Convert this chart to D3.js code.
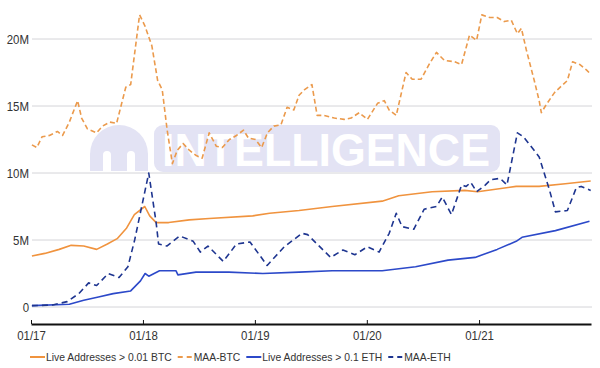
<!DOCTYPE html>
<html>
<head>
<meta charset="utf-8">
<script src="https://cdn.jsdelivr.net/npm/d3@7"></script>
<style>
  body { margin: 0; background: #fff; }
  svg { display: block; font-family: "Liberation Sans", Arial, sans-serif; }
</style>
</head>
<body>
<svg id="chart" width="600" height="368"></svg>
<script>
// values in millions, dates
const maaBtcDates = ['2017-01-04','2017-01-20','2017-02-06','2017-03-02','2017-03-28','2017-04-14','2017-05-06','2017-06-02','2017-06-15','2017-07-04','2017-08-03','2017-08-22','2017-09-15','2017-10-07','2017-11-06','2017-11-22','2017-12-21','2018-01-07','2018-01-30','2018-02-18','2018-03-05','2018-03-21','2018-04-07','2018-04-23','2018-05-12','2018-06-01','2018-06-24','2018-07-13','2018-08-05','2018-08-28','2018-09-17','2018-10-10','2018-11-02','2018-11-25','2018-12-11','2019-01-03','2019-01-23','2019-02-11','2019-03-04','2019-03-27','2019-04-16','2019-05-08','2019-05-25','2019-06-11','2019-07-06','2019-07-23','2019-08-15','2019-09-17','2019-10-19','2019-11-11','2019-12-07','2020-01-03','2020-02-05','2020-02-27','2020-03-14','2020-04-06','2020-05-08','2020-05-28','2020-06-26','2020-07-22','2020-08-15','2020-09-10','2020-10-13','2020-11-05','2020-12-01','2020-12-24','2021-01-10','2021-02-05','2021-03-01','2021-03-24','2021-04-16','2021-05-06','2021-05-19','2021-06-04','2021-06-30','2021-07-16','2021-07-23','2021-08-08','2021-09-04','2021-09-27','2021-10-16','2021-11-02','2021-11-25','2021-12-17','2021-12-30'];
const maaBtcValues = [12.1,11.9,12.7,12.8,13.1,12.8,13.8,15.4,14.1,13.3,13.0,13.5,13.8,13.7,16.4,16.6,21.8,21.0,19.5,16.9,16.2,13.2,10.7,11.7,12.2,11.7,11.3,11.1,13.0,12.0,11.9,12.5,12.8,13.2,12.6,12.5,11.9,13.0,13.5,13.6,14.9,14.7,15.8,16.2,16.6,14.3,14.3,14.1,14.0,14.1,14.5,14.0,15.2,15.4,14.7,14.3,17.5,17.0,17.0,18.1,19.0,18.4,18.3,18.1,20.3,19.9,21.8,21.6,21.6,21.3,21.4,20.4,20.8,19.2,16.9,15.4,14.5,15.1,16.0,16.5,16.9,18.3,18.1,17.7,17.4];

const liveBtcDates = ['2017-01-04','2017-02-15','2017-04-03','2017-05-12','2017-06-22','2017-08-03','2017-09-07','2017-10-09','2017-11-09','2017-12-04','2018-01-07','2018-01-23','2018-02-13','2018-03-26','2018-06-01','2018-08-05','2018-12-25','2019-02-18','2019-05-25','2019-09-10','2020-02-20','2020-04-14','2020-08-01','2020-11-15','2020-12-27','2021-05-02','2021-07-16','2021-10-09','2021-12-31'];
const liveBtcValues = [3.8,4.0,4.3,4.6,4.55,4.3,4.7,5.1,5.9,6.9,7.5,6.8,6.3,6.3,6.5,6.6,6.8,7.0,7.2,7.5,7.9,8.3,8.6,8.7,8.6,9.0,9.0,9.2,9.4];

const liveEthDates = ['2017-01-04','2017-05-06','2017-06-22','2017-08-09','2017-09-26','2017-11-22','2017-12-24','2018-01-08','2018-01-20','2018-02-24','2018-04-19','2018-04-25','2018-06-23','2018-10-08','2019-01-27','2019-05-25','2019-09-10','2020-02-20','2020-06-08','2020-09-22','2020-12-19','2021-03-01','2021-05-02','2021-05-21','2021-09-07','2021-12-27'];
const liveEthValues = [0.1,0.2,0.5,0.75,1.0,1.2,1.95,2.5,2.3,2.7,2.7,2.4,2.6,2.6,2.5,2.6,2.7,2.7,3.0,3.5,3.7,4.3,4.9,5.2,5.7,6.4];

const maaEthDates = ['2017-01-04','2017-03-12','2017-04-29','2017-06-06','2017-07-08','2017-08-03','2017-09-10','2017-10-15','2017-11-13','2017-12-05','2018-01-20','2018-02-13','2018-02-21','2018-03-20','2018-05-01','2018-06-14','2018-07-07','2018-08-01','2018-09-20','2018-11-02','2018-12-16','2019-02-10','2019-04-07','2019-06-04','2019-06-22','2019-09-05','2019-10-15','2019-11-23','2020-01-03','2020-02-10','2020-03-14','2020-04-06','2020-04-25','2020-06-02','2020-07-06','2020-08-15','2020-09-03','2020-10-03','2020-11-05','2020-11-20','2020-12-05','2020-12-24','2021-01-21','2021-02-08','2021-03-11','2021-04-02','2021-05-06','2021-05-26','2021-07-16','2021-08-19','2021-09-07','2021-10-16','2021-11-14','2021-11-30','2021-12-31'];
const maaEthValues = [0.1,0.15,0.4,1.0,1.8,1.6,2.5,2.2,3.0,5.0,10.0,6.3,4.7,4.55,5.3,4.9,4.1,4.55,3.4,4.7,4.85,3.1,4.5,5.5,5.4,3.7,4.25,3.9,4.5,4.1,5.5,7.0,6.0,5.8,7.3,7.5,8.2,6.9,9.1,9.0,9.3,8.6,9.1,9.5,9.6,9.1,13.0,12.7,11.2,8.7,7.1,7.2,8.9,9.0,8.7];

const yTicks = [0, 5, 10, 15, 20];
const yTickLabels = ['0', '5M', '10M', '15M', '20M'];
const xTicks = ['2017-01-01', '2018-01-01', '2019-01-01', '2020-01-01', '2021-01-01'];

const seriesNames = ['Live Addresses > 0.01 BTC', 'MAA-BTC', 'Live Addresses > 0.1 ETH', 'MAA-ETH'];
const seriesColors = ['#f0933e', '#eb9a4c', '#2c49c9', '#1e3590'];
const seriesDash = [null, '5,3', null, '6,4'];

const parse = d3.timeParse('%Y-%m-%d');
const zip = (dates, vals) => dates.map((d, i) => ({ date: parse(d), value: vals[i] }));

const series = [
    zip(liveBtcDates, liveBtcValues),
    zip(maaBtcDates, maaBtcValues),
    zip(liveEthDates, liveEthValues),
    zip(maaEthDates, maaEthValues),
];

// reference text is a bit narrower than Liberation Sans
function squeeze(sel, k) {
    sel.each(function() {
        let w = this.getComputedTextLength();
        d3.select(this)
            .attr('textLength', w * k)
            .attr('lengthAdjust', 'spacingAndGlyphs');
    });
}

const svg = d3.select('#chart');

const x = d3.scaleTime()
    .domain([parse('2017-01-01'), parse('2022-01-01')])
    .range([31, 591]);

// 5M per 67px
const y = d3.scaleLinear()
    .domain([0, 20])
    .range([307, 39]);

// gridlines + y labels
svg.append('g')
    .selectAll('line')
    .data(yTicks)
    .enter()
    .append('line')
    .attr('x1', 32)
    .attr('x2', 592)
    .attr('y1', (d) => y(d))
    .attr('y2', (d) => y(d))
    .attr('stroke', '#d4d4d8')
    .attr('stroke-width', 1);

svg.append('g')
    .selectAll('text')
    .data(yTicks)
    .enter()
    .append('text')
    .attr('x', 29)
    .attr('y', (d) => y(d))
    .attr('dy', '0.35em')
    .attr('text-anchor', 'end')
    .attr('font-size', 13)
    .attr('fill', '#333')
    .text((d, i) => yTickLabels[i])
    .call(squeeze, 0.88);

// watermark
let wm = svg.append('g');
wm.append('path')
    .attr('d', 'M90,171 L90,154 A29,29 0 0 1 148,154 L148,171 Z')
    .attr('fill', '#e3e3f4');
// the two arch slots of the "m"
wm.append('path')
    .attr('d', 'M103,171 L103,155 A4,4 0 0 1 111,155 L111,171 Z M127,171 L127,155 A4,4 0 0 1 135,155 L135,171 Z')
    .attr('fill', '#fff');
wm.append('rect')
    .attr('x', 154).attr('y', 125)
    .attr('width', 346).attr('height', 47)
    .attr('rx', 9)
    .attr('fill', '#e3e3f4');
wm.append('text')
    .attr('x', 162).attr('y', 166)
    .attr('font-size', 46)
    .attr('font-weight', 'bold')
    .attr('textLength', 328)
    .attr('lengthAdjust', 'spacingAndGlyphs')
    .attr('fill', '#fff')
    .text('INTELLIGENCE');

// lines
const line = d3.line()
    .x((d) => x(d.date))
    .y((d) => y(d.value));

series.forEach((s, i) => {
    svg.append('path')
        .datum(s)
        .attr('d', line)
        .attr('fill', 'none')
        .attr('stroke', seriesColors[i])
        .attr('stroke-width', 1.6)
        .attr('stroke-dasharray', seriesDash[i])
        .attr('stroke-linejoin', 'round');
});

// x axis
const xAxis = svg.append('g')
    .attr('transform', 'translate(0,324)')
    .call(d3.axisBottom(x)
        .tickValues(xTicks.map(parse))
        .tickFormat(d3.timeFormat('%m/%y'))
        .tickSizeInner(-4)
        .tickSizeOuter(0)
        .tickPadding(7));
xAxis.select('.domain').attr('stroke', '#111').attr('stroke-width', 2);
xAxis.selectAll('.tick line').attr('stroke', '#111');
xAxis.selectAll('text')
    .attr('font-size', 13)
    .attr('font-family', '"Liberation Sans", Arial, sans-serif')
    .attr('fill', '#333')
    .call(squeeze, 0.88);

// legend
let legend = svg.append('g').attr('transform', 'translate(30,357)');
let lx = 0;
seriesNames.forEach((name, i) => {
    legend.append('line')
        .attr('x1', lx).attr('x2', lx + 15)
        .attr('y1', 0).attr('y2', 0)
        .attr('stroke', seriesColors[i])
        .attr('stroke-width', 2)
        .attr('stroke-dasharray', seriesDash[i] ? '5,4' : null);
    let t = legend.append('text')
        .attr('x', lx + 16)
        .attr('y', 0)
        .attr('dy', '0.35em')
        .attr('font-size', 11.5)
        .attr('fill', '#333')
        .text(name);
    let w = t.node().getComputedTextLength() * 0.9;
    t.attr('textLength', w).attr('lengthAdjust', 'spacingAndGlyphs');
    lx += 16 + w + 6;
});
</script>
</body>
</html>
